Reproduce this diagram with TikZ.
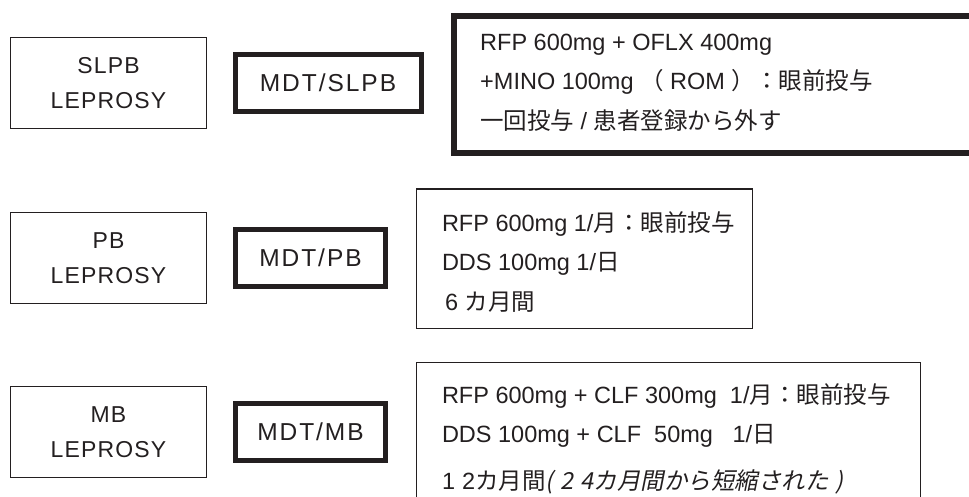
\documentclass[tikz,border=0pt]{standalone}
\usepackage{fontspec}
\usetikzlibrary{positioning}
\setmainfont{Liberation Sans}
\newfontfamily\jpfont{Noto Sans CJK JP}
\newfontfamily\jpslfont[FakeSlant=0.2]{Noto Sans CJK JP}
\newfontfamily\typefont[LetterSpace=5]{Liberation Sans}
\newfontfamily\mdtfont[LetterSpace=8]{Liberation Sans}
\newcommand{\jp}[1]{{\jpfont #1}}
\newcommand{\jpsl}[1]{{\jpslfont #1}}
\definecolor{Ink}{RGB}{35,31,32}

\begin{document}
\begin{tikzpicture}[x=1pt,y=-1pt,
  typebox/.style={draw=Ink,line width=1.3pt,minimum width=196pt,minimum height=91pt,inner sep=0pt,align=center,text=Ink,font=\typefont\fontsize{23}{35}\selectfont},
  mdtbox/.style={draw=Ink,line width=5pt,minimum height=57pt,inner sep=0pt,text=Ink,font=\mdtfont\fontsize{24.5}{28}\selectfont},
  regbox/.style={draw=Ink,line width=1.3pt,anchor=north west,inner sep=0pt},
  regtext/.style={inner sep=0pt,align=left,text=Ink,font=\fontsize{23.5}{39.5}\selectfont}]
\path[use as bounding box] (0,0) rectangle (969,497);
\node[typebox] (slpb) at (108.5,83) {SLPB\\LEPROSY};
\node[mdtbox,minimum width=186pt] (mdtslpb) at (328,83) {MDT/SLPB};
\node[regbox,line width=6pt,minimum width=560pt,minimum height=137pt] (rxslpb) at (451,13) {};
\node[regtext,right=29pt of rxslpb.west,yshift=2pt] (txslpb) {RFP 600mg + OFLX 400mg\\
+MINO 100mg \jp{（} ROM \jp{）：眼前投与}\\
\jp{一回投与} / \jp{患者登録から外す}};
\node[typebox] (pb) at (108.5,258) {PB\\LEPROSY};
\node[mdtbox,minimum width=150pt] (mdtpb) at (310.5,258) {MDT/PB};
\node[regbox,minimum width=336pt,minimum height=139pt] (rxpb) at (415.8,188.5) {};
\node[regtext,right=26pt of rxpb.west,yshift=-3pt] (txpb) {RFP 600mg 1/\jp{月：眼前投与}\\
DDS 100mg 1/\jp{日}\\
\hspace{3pt}6 \jp{カ月間}};
\node[typebox] (mb) at (108.5,432) {MB\\LEPROSY};
\node[mdtbox,minimum width=150pt] (mdtmb) at (310.5,432) {MDT/MB};
\node[regbox,minimum width=504pt,minimum height=148pt] (rxmb) at (415.8,362) {};
\node[regtext,right=26pt of rxmb.west,yshift=-2pt] (txmb) {RFP 600mg + CLF 300mg\ \ 1/\jp{月：眼前投与}\\
DDS 100mg + CLF\ \ 50mg\ \ \ 1/\jp{日}\\[7pt]
1\hspace{7pt}2\jp{カ月間}\jpsl{(\hspace{7pt}2\hspace{7pt}4カ月間から短縮された\hspace{7pt})}};
\end{tikzpicture}
\end{document}
